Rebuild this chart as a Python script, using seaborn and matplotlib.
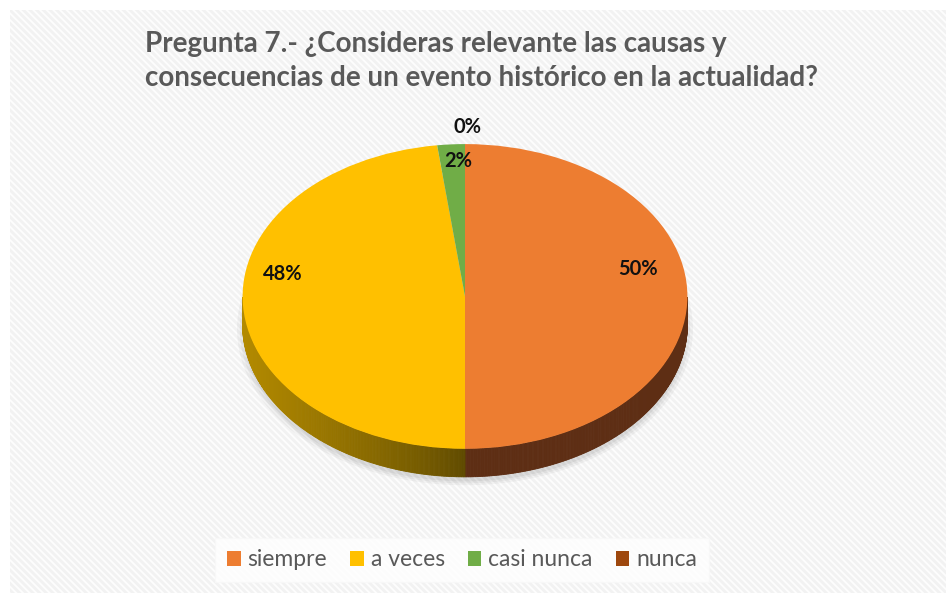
import numpy as np
import pandas as pd
import matplotlib
matplotlib.use("Agg")
import matplotlib.pyplot as plt
import matplotlib.patches as mpatches
from matplotlib.colors import to_rgb
import seaborn as sns

# ============================================================
# DATA
# ============================================================
categories = ["siempre", "a veces", "casi nunca", "nunca"]
shares = [50, 48, 2, 0]
pct_labels = ["50%", "48%", "2%", "0%"]
colors = ["#ED7D31", "#FFC000", "#70AD47", "#9E480E"]
title = ("Pregunta 7.- ¿Consideras relevante las causas y\n"
         "consecuencias de un evento histórico en la actualidad?")

df = pd.DataFrame({"respuesta": categories, "pct": shares, "color": colors})

# label placement (axes data units, pie radius = 1)
label_pos = [(0.78, 0.18), (-0.82, 0.15), (-0.03, 0.89), (0.01, 1.11)]

sns.set_theme(style="white")
plt.rcParams["font.family"] = ["Lato", "DejaVu Sans"]
plt.rcParams["hatch.linewidth"] = 2.0

fig = plt.figure(figsize=(9.46, 5.93), dpi=100)
fig.patch.set_facecolor("white")

# striped chart background
bg = mpatches.Rectangle((10 / 946, 0), 1, 1 - 10 / 593, transform=fig.transFigure,
                        facecolor="#fdfdfd", edgecolor="#f2f2f2", hatch="\\" * 5,
                        linewidth=0, zorder=-5)
fig.patches.append(bg)

ax = fig.add_axes([187 / 946, 68 / 593, 556 / 946, 419 / 593])
ax.patch.set_alpha(0)

depth = 0.184

# soft shadow under the pie
for k, a in enumerate([0.04, 0.04, 0.05]):
    sh = mpatches.Ellipse((0.0, -depth - 0.03), 2.05 - 0.025 * k, 2.05 - 0.025 * k,
                          facecolor="#000000", alpha=a, linewidth=0, zorder=1)
    ax.add_patch(sh)

# side wall of the 3D pie (front half only)
side_start = {"siempre": "#5E2E14", "a veces": "#B38A00"}
side_end = {"siempre": "#5E2E14", "a veces": "#5F4A00"}
angles = 90 - 360 * np.cumsum([0] + list(df["pct"])) / 100.0
for i, row in df.iterrows():
    a1, a2 = angles[i + 1], angles[i]
    if row["respuesta"] not in side_start:
        continue
    t = np.linspace(a1, a2, 400)
    t = t[((t % 360) >= 180) & ((t % 360) <= 360)]
    if len(t) < 2:
        continue
    c0 = np.array(to_rgb(side_start[row["respuesta"]]))
    c1 = np.array(to_rgb(side_end[row["respuesta"]]))
    for j in range(len(t) - 1):
        ta, tb = np.radians(t[j]), np.radians(t[j + 1])
        xs = [np.cos(ta), np.cos(tb), np.cos(tb), np.cos(ta)]
        ys = [np.sin(ta), np.sin(tb), np.sin(tb) - depth, np.sin(ta) - depth]
        # gradient by horizontal position: bright at the rim, dark at the middle
        f = min(1.0, abs(np.cos((ta + tb) / 2)) ** 0.8)
        col = c1 + (c0 - c1) * f if row["respuesta"] == "a veces" else c0
        ax.fill(xs, ys, color=col, linewidth=0.6, edgecolor=col, zorder=2)

wedges, _ = ax.pie(df["pct"], colors=df["color"], startangle=90, counterclock=False,
                   radius=1, wedgeprops=dict(linewidth=0))
for w in wedges:
    w.set_zorder(3)

ax.set_aspect("auto")
ax.set_xlim(-1.25, 1.25)
ax.set_ylim(-1.5, 1.25)
ax.axis("off")

for txt, (x, y) in zip(pct_labels, label_pos):
    ax.text(x, y, txt, ha="center", va="center", fontsize=14.5, fontweight="bold",
            color="#111111", zorder=5)

fig.text(145 / 946, 1 - 31 / 593, title, ha="left", va="top", fontsize=20,
         fontweight="bold", color="#595959", linespacing=1.38)

handles = [mpatches.Patch(facecolor=c, edgecolor="none") for c in df["color"]]
leg = fig.legend(handles, df["respuesta"], loc="center", bbox_to_anchor=(462 / 946, 1 - 560 / 593),
                 ncol=4, frameon=True, fontsize=16.5, handlelength=0.6, handleheight=0.6,
                 handletextpad=0.3, columnspacing=1.0, borderpad=0.5, borderaxespad=0,
                 fancybox=False)
leg.get_frame().set_facecolor("white")
leg.get_frame().set_edgecolor("#f8f8f8")
for t in leg.get_texts():
    t.set_color("#595959")

fig.savefig("out.png", dpi=100, facecolor=fig.get_facecolor())
